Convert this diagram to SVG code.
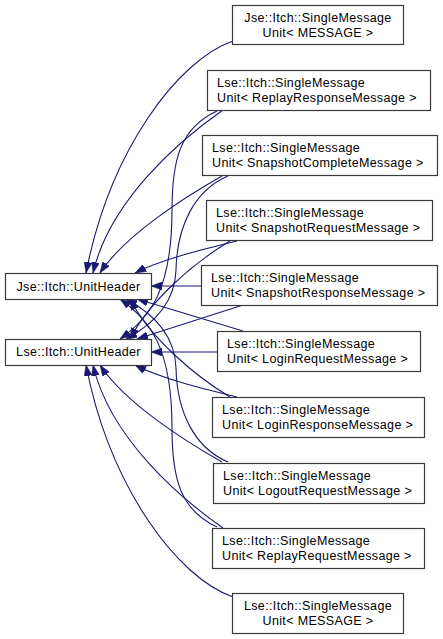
<svg xmlns="http://www.w3.org/2000/svg" width="443" height="639" viewBox="0 0 443 639">
<defs>
<style>
.box{fill:#ffffff;stroke:#3a3a3a;stroke-width:1.2}
.t{font-family:"Liberation Sans",Arial,Helvetica,sans-serif;font-size:12.5px;letter-spacing:0.35px;fill:#000000}
.c{text-anchor:middle}
.e{fill:none;stroke:#191970;stroke-width:1.1}
</style>
<marker id="arr" markerUnits="userSpaceOnUse" markerWidth="11" markerHeight="8" viewBox="0 0 11 8" refX="11" refY="4" orient="auto">
<path d="M0,0 L11,4 L0,8 z" fill="#191970" stroke="#191970" stroke-width="0.5"/>
</marker>
</defs>
<rect width="443" height="639" fill="#ffffff"/>
<g id="connectors">
<!-- to Jse::Itch::UnitHeader (top side) -->
<path class="e" marker-end="url(#arr)" d="M233,41 C178,60 110,150 86,273"/>
<path class="e" marker-end="url(#arr)" d="M223,110 C180,140 110,200 93,273"/>
<path class="e" marker-end="url(#arr)" d="M222,176 C185,197 125,235 100,273"/>
<path class="e" marker-end="url(#arr)" d="M237,241 C200,250 160,260 135,273"/>
<path class="e" marker-end="url(#arr)" d="M201,286 L151,286"/>
<!-- to Lse::Itch::UnitHeader (top side) -->
<path class="e" marker-end="url(#arr)" d="M217,111 C180,128 172,160 172,210 C172,290 150,318 120,339"/>
<path class="e" marker-end="url(#arr)" d="M228,176 C195,190 177,225 176,270 C175,300 158,322 126,339"/>
<path class="e" marker-end="url(#arr)" d="M230,241 C195,262 150,300 130,339"/>
<path class="e" marker-end="url(#arr)" d="M243,305 L137,339"/>
<path class="e" marker-end="url(#arr)" d="M217,352 L151,352"/>
<!-- to Lse::Itch::UnitHeader (bottom side) -->
<path class="e" marker-end="url(#arr)" d="M233,597 C178,578 110,488 86,365"/>
<path class="e" marker-end="url(#arr)" d="M223,528 C180,498 110,438 93,365"/>
<path class="e" marker-end="url(#arr)" d="M222,462 C185,441 125,403 100,365"/>
<path class="e" marker-end="url(#arr)" d="M237,397 C200,388 160,378 135,365"/>
<!-- to Jse::Itch::UnitHeader (bottom side) -->
<path class="e" marker-end="url(#arr)" d="M217,527 C180,510 172,478 172,428 C172,348 150,320 120,299"/>
<path class="e" marker-end="url(#arr)" d="M228,462 C195,448 177,413 176,368 C175,338 158,316 126,299"/>
<path class="e" marker-end="url(#arr)" d="M230,397 C195,376 150,338 130,299"/>
<path class="e" marker-end="url(#arr)" d="M243,331 L137,299"/>
</g>
<g id="jse_unitheader">
<rect class="box" x="5.5" y="273.5" width="146" height="26"/>
<text class="t c" x="78.5" y="290.5">Jse::Itch::UnitHeader</text>
</g>
<g id="lse_unitheader">
<rect class="box" x="5.5" y="339.5" width="146" height="26"/>
<text class="t c" x="78.5" y="356">Lse::Itch::UnitHeader</text>
</g>
<g id="jse_message">
<rect class="box" x="232.5" y="5.5" width="171" height="39"/>
<text class="t c" x="318" y="21.5">Jse::Itch::SingleMessage</text>
<text class="t c" x="318" y="36.5">Unit&lt; MESSAGE &gt;</text>
</g>
<g id="lse_replay_response">
<rect class="box" x="207.5" y="70.5" width="223" height="40"/>
<text class="t" x="217" y="87">Lse::Itch::SingleMessage</text>
<text class="t" x="217" y="102">Unit&lt; ReplayResponseMessage &gt;</text>
</g>
<g id="lse_snapshot_complete">
<rect class="box" x="202.5" y="135.5" width="235" height="40"/>
<text class="t" x="212" y="152">Lse::Itch::SingleMessage</text>
<text class="t" x="212" y="167">Unit&lt; SnapshotCompleteMessage &gt;</text>
</g>
<g id="lse_snapshot_request">
<rect class="box" x="206.5" y="200.5" width="226" height="40"/>
<text class="t" x="216" y="217">Lse::Itch::SingleMessage</text>
<text class="t" x="216" y="232">Unit&lt; SnapshotRequestMessage &gt;</text>
</g>
<g id="lse_snapshot_response">
<rect class="box" x="201.5" y="265.5" width="236" height="40"/>
<text class="t" x="211" y="282">Lse::Itch::SingleMessage</text>
<text class="t" x="211" y="297">Unit&lt; SnapshotResponseMessage &gt;</text>
</g>
<g id="lse_login_request">
<rect class="box" x="217.5" y="331.5" width="203" height="40"/>
<text class="t" x="227" y="348">Lse::Itch::SingleMessage</text>
<text class="t" x="227" y="363">Unit&lt; LoginRequestMessage &gt;</text>
</g>
<g id="lse_login_response">
<rect class="box" x="212.5" y="397.5" width="212" height="40"/>
<text class="t" x="222" y="414">Lse::Itch::SingleMessage</text>
<text class="t" x="222" y="429">Unit&lt; LoginResponseMessage &gt;</text>
</g>
<g id="lse_logout_request">
<rect class="box" x="213.5" y="463.5" width="211" height="40"/>
<text class="t" x="223" y="480">Lse::Itch::SingleMessage</text>
<text class="t" x="223" y="495">Unit&lt; LogoutRequestMessage &gt;</text>
</g>
<g id="lse_replay_request">
<rect class="box" x="212.5" y="528.5" width="212" height="40"/>
<text class="t" x="222" y="545">Lse::Itch::SingleMessage</text>
<text class="t" x="222" y="560">Unit&lt; ReplayRequestMessage &gt;</text>
</g>
<g id="lse_message">
<rect class="box" x="232.5" y="593.5" width="171" height="40"/>
<text class="t c" x="318" y="610">Lse::Itch::SingleMessage</text>
<text class="t c" x="318" y="625">Unit&lt; MESSAGE &gt;</text>
</g>
</svg>
